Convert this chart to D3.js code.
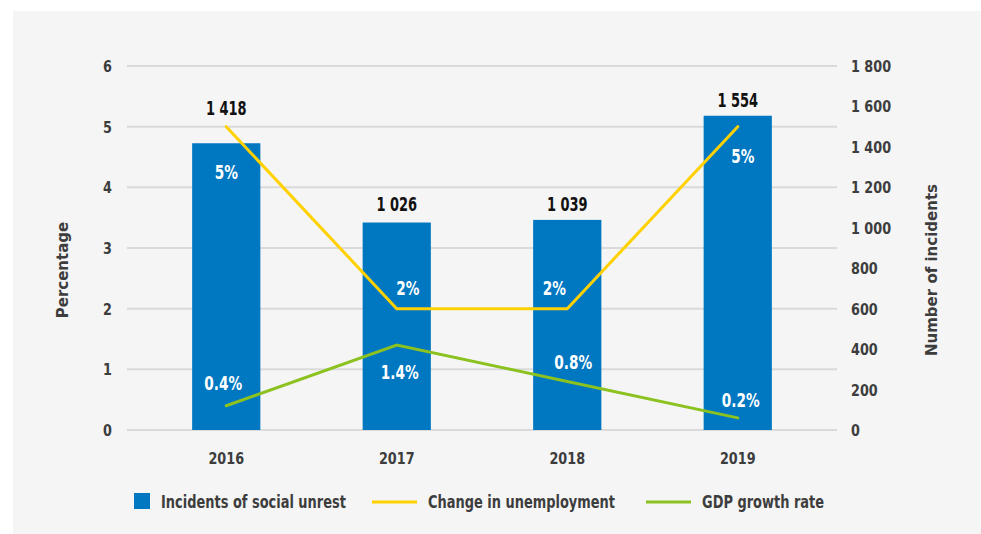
<!DOCTYPE html>
<html>
<head>
<meta charset="utf-8">
<script src="https://cdn.jsdelivr.net/npm/d3@7"></script>
<style>
  html, body { margin: 0; padding: 0; background: #ffffff; }
  svg text { font-family: "DejaVu Sans", "Liberation Sans", sans-serif; }
</style>
</head>
<body>
<svg id="chart" width="981" height="534"></svg>
<script>
// Years on the x axis
const years = ["2016", "2017", "2018", "2019"];
// Incidents of social unrest (right axis)
const incidents = [1418, 1026, 1039, 1554];
// Change in unemployment, % (left axis)
const unemployment = [5, 2, 2, 5];
// GDP growth rate, % (left axis)
const gdpGrowth = [0.4, 1.4, 0.8, 0.2];
// Axis ticks
const leftTicks = [0, 1, 2, 3, 4, 5, 6];
const rightTicks = [0, 200, 400, 600, 800, 1000, 1200, 1400, 1600, 1800];

// Label nudges (pixels) so labels clear the lines
const barLabelOffset = [-28, -12, -9, -9];
const unempLabelOffset = [[0, 45], [11, -21], [-13, -21], [5, 29]];
const gdpLabelOffset = [[-3, -23], [3, 27], [6, -19], [3, -18]];

const colors = { bar: "#0077c1", unemp: "#ffd100", gdp: "#8cc220", grid: "#dadada", bg: "#f5f5f5", axisText: "#3d3d3d" };

const svg = d3.select("#chart");
svg.append("rect").attr("x", 13).attr("y", 11).attr("width", 981).attr("height", 540).attr("fill", colors.bg);

const plot = { left: 127, right: 837, top: 66, bottom: 430 };

const x = d3.scaleBand().domain(years).range([141, 823]).paddingInner(0.6).paddingOuter(0.3);
const yL = d3.scaleLinear().domain([0, 6]).range([plot.bottom, plot.top]);
const yR = d3.scaleLinear().domain([0, 1800]).range([plot.bottom, plot.top]);
const cx = d => x(d) + x.bandwidth() / 2;
const fmt = v => d3.format(",")(v).replace(/,/g, " ");

// Narrow the glyphs horizontally to get a condensed face
function condense(sel, k) {
  sel.each(function () {
    const w = this.getComputedTextLength();
    this.setAttribute("textLength", (w * k).toFixed(1));
    this.setAttribute("lengthAdjust", "spacingAndGlyphs");
  });
}

// Gridlines
svg.append("g").selectAll("line").data(leftTicks).join("line")
  .attr("x1", plot.left).attr("x2", plot.right)
  .attr("y1", d => yL(d)).attr("y2", d => yL(d))
  .attr("stroke", colors.grid).attr("stroke-width", 2);

// Left axis labels
svg.append("g").selectAll("text").data(leftTicks).join("text")
  .attr("x", 112).attr("y", d => yL(d) + 6)
  .attr("text-anchor", "end").attr("font-size", 16).attr("font-weight", "bold")
  .attr("fill", colors.axisText).text(d => d)
  .call(condense, 0.8);

// Right axis labels
svg.append("g").selectAll("text").data(rightTicks).join("text")
  .attr("x", 851).attr("y", d => yR(d) + 6)
  .attr("text-anchor", "start").attr("font-size", 16).attr("font-weight", "bold")
  .attr("fill", colors.axisText).text(d => fmt(d))
  .call(condense, 0.8);

// Axis titles
svg.append("text").attr("transform", "translate(68,270) rotate(-90)")
  .attr("text-anchor", "middle").attr("font-size", 15).attr("font-weight", "bold")
  .attr("fill", colors.axisText).text("Percentage")
  .call(condense, 1.0);
svg.append("text").attr("transform", "translate(937,270) rotate(-90)")
  .attr("text-anchor", "middle").attr("font-size", 15).attr("font-weight", "bold")
  .attr("fill", colors.axisText).text("Number of incidents")
  .call(condense, 1.0);

// Year labels
svg.append("g").selectAll("text").data(years).join("text")
  .attr("x", d => cx(d)).attr("y", 464)
  .attr("text-anchor", "middle").attr("font-size", 16).attr("font-weight", "bold")
  .attr("fill", colors.axisText).text(d => d)
  .call(condense, 0.8);

// Bars
svg.append("g").selectAll("rect").data(years).join("rect")
  .attr("x", d => x(d)).attr("width", x.bandwidth())
  .attr("y", (d, i) => yR(incidents[i]))
  .attr("height", (d, i) => plot.bottom - yR(incidents[i]))
  .attr("fill", colors.bar);

// Bar value labels
svg.append("g").selectAll("text").data(years).join("text")
  .attr("x", d => cx(d)).attr("y", (d, i) => yR(incidents[i]) + barLabelOffset[i])
  .attr("text-anchor", "middle").attr("font-size", 20).attr("font-weight", "bold")
  .attr("fill", "#111").text((d, i) => fmt(incidents[i]))
  .call(condense, 0.65);

// Lines
const line = d3.line().x(d => cx(d[0])).y(d => yL(d[1]));
svg.append("path").datum(years.map((d, i) => [d, unemployment[i]]))
  .attr("d", line).attr("fill", "none").attr("stroke", colors.unemp).attr("stroke-width", 3).attr("stroke-linecap", "round");
svg.append("path").datum(years.map((d, i) => [d, gdpGrowth[i]]))
  .attr("d", line).attr("fill", "none").attr("stroke", colors.gdp).attr("stroke-width", 3).attr("stroke-linecap", "round");

// Point labels
function pointLabels(values, offsets, suffix) {
  svg.append("g").selectAll("text").data(years).join("text")
    .attr("x", (d, i) => cx(d) + offsets[i][0])
    .attr("y", (d, i) => yL(values[i]) + offsets[i][1] + 7)
    .attr("text-anchor", "middle").attr("font-size", 19).attr("font-weight", "bold")
    .attr("fill", "#ffffff").text((d, i) => values[i] + suffix)
    .call(condense, 0.72);
}
pointLabels(unemployment, unempLabelOffset, "%");
pointLabels(gdpGrowth, gdpLabelOffset, "%");

// Legend
const legend = svg.append("g").attr("font-size", 18).attr("font-weight", "bold").attr("fill", colors.axisText);
legend.append("rect").attr("x", 134).attr("y", 493).attr("width", 16).attr("height", 16).attr("fill", colors.bar);
legend.append("text").attr("x", 161).attr("y", 508).text("Incidents of social unrest");
legend.append("line").attr("x1", 372).attr("x2", 417).attr("y1", 502).attr("y2", 502).attr("stroke", colors.unemp).attr("stroke-width", 3);
legend.append("text").attr("x", 428).attr("y", 508).text("Change in unemployment");
legend.append("line").attr("x1", 646).attr("x2", 691).attr("y1", 502).attr("y2", 502).attr("stroke", colors.gdp).attr("stroke-width", 3);
legend.append("text").attr("x", 702).attr("y", 508).text("GDP growth rate");
legend.selectAll("text").call(condense, 0.72);
</script>
</body>
</html>
